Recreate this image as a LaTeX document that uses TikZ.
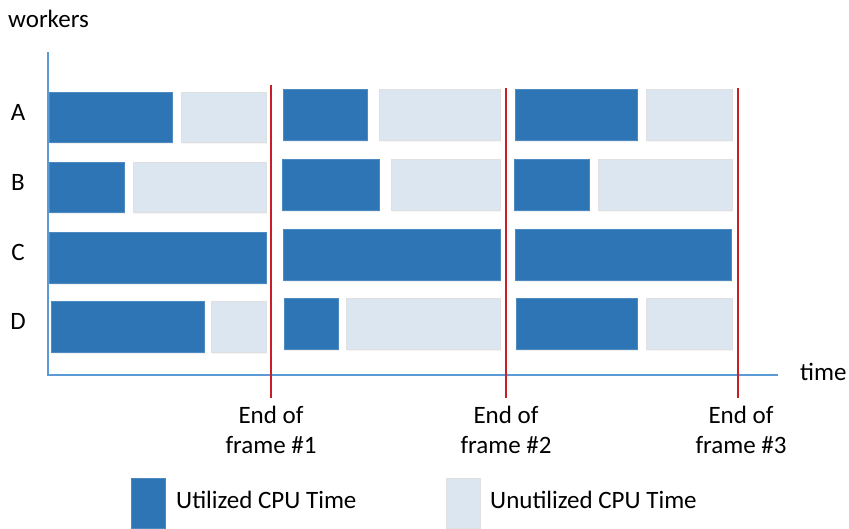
\documentclass[tikz,border=0pt]{standalone}
\usepackage{fontspec}
\setmainfont{Carlito}
\usetikzlibrary{shadows}

\definecolor{usedblue}{RGB}{46,117,182}
\definecolor{idleblue}{RGB}{220,230,241}
\definecolor{axisblue}{RGB}{91,155,213}
\definecolor{framered}{RGB}{200,30,40}

\begin{document}
\begin{tikzpicture}[x=1pt, y=-1pt,
    used/.style={fill=usedblue, draw=usedblue!85!white, line width=0.5pt,
      drop shadow={shadow xshift=1pt, shadow yshift=-2pt, opacity=0.12}},
    idle/.style={fill=idleblue, draw=black!12, line width=0.8pt,
      drop shadow={shadow xshift=1pt, shadow yshift=-2pt, opacity=0.08}},
    lbl/.style={font=\fontsize{25}{30}\selectfont, inner sep=0pt},
    framelbl/.style={lbl, align=center, anchor=north},
    endline/.style={framered, line width=1.2pt}]
  \useasboundingbox (0,0) rectangle (849,528);

  % Ejes
  \coordinate (ytop) at (48,52);
  \coordinate (origin) at (48,375);
  \coordinate (xend) at (778,375);
  \draw[axisblue, line width=1.5pt] (ytop) -- (origin) -- (xend);
  \node[lbl, anchor=west] (workers) at (8,19) {workers};
  \node[lbl, anchor=west] (time) at (800,372) {time};

  % Trabajadores
  \node[lbl] (rowA) at (18,112) {A};
  \node[lbl] (rowB) at (18,182) {B};
  \node[lbl] (rowC) at (18,252) {C};
  \node[lbl] (rowD) at (18,321) {D};

  % Frame 1
  \fill[used] (49,92) rectangle (172,142);
  \fill[idle] (181,92) rectangle (266,142);
  \fill[used] (49,162) rectangle (124,212);
  \fill[idle] (133,162) rectangle (266,212);
  \fill[used] (49,232) rectangle (266,283);
  \fill[used] (51,301) rectangle (204,352);
  \fill[idle] (211,301) rectangle (266,352);

  % Frame 2
  \fill[used] (283,89) rectangle (367,140);
  \fill[idle] (379,89) rectangle (500,140);
  \fill[used] (282,159) rectangle (379,210);
  \fill[idle] (391,159) rectangle (500,210);
  \fill[used] (283,229) rectangle (500,280);
  \fill[used] (284,298) rectangle (338,349);
  \fill[idle] (346,298) rectangle (500,349);

  % Frame 3
  \fill[used] (515,89) rectangle (637,140);
  \fill[idle] (646,89) rectangle (732,140);
  \fill[used] (514,159) rectangle (589,210);
  \fill[idle] (598,159) rectangle (732,210);
  \fill[used] (515,229) rectangle (731,280);
  \fill[used] (516,298) rectangle (637,349);
  \fill[idle] (646,298) rectangle (732,349);

  % Fin de cada frame
  \coordinate (end1top) at (271,85);
  \coordinate (end1bot) at (271,398);
  \coordinate (end2top) at (506,88);
  \coordinate (end2bot) at (506,398);
  \coordinate (end3top) at (738,88);
  \coordinate (end3bot) at (738,398);
  \draw[endline] (end1top) -- (end1bot);
  \draw[endline] (end2top) -- (end2bot);
  \draw[endline] (end3top) -- (end3bot);
  \node[framelbl] (frame1) at (271,406) {End of\\frame \#1};
  \node[framelbl] (frame2) at (506,406) {End of\\frame \#2};
  \node[framelbl] (frame3) at (741,406) {End of\\frame \#3};

  % Leyenda
  \fill[used] (131,478) rectangle (165,528);
  \node[lbl, anchor=west] (usedlbl) at (176,500) {Utilized CPU Time};
  \fill[idle] (446,478) rectangle (480,528);
  \node[lbl, anchor=west] (idlelbl) at (490,500) {Unutilized CPU Time};
\end{tikzpicture}
\end{document}
